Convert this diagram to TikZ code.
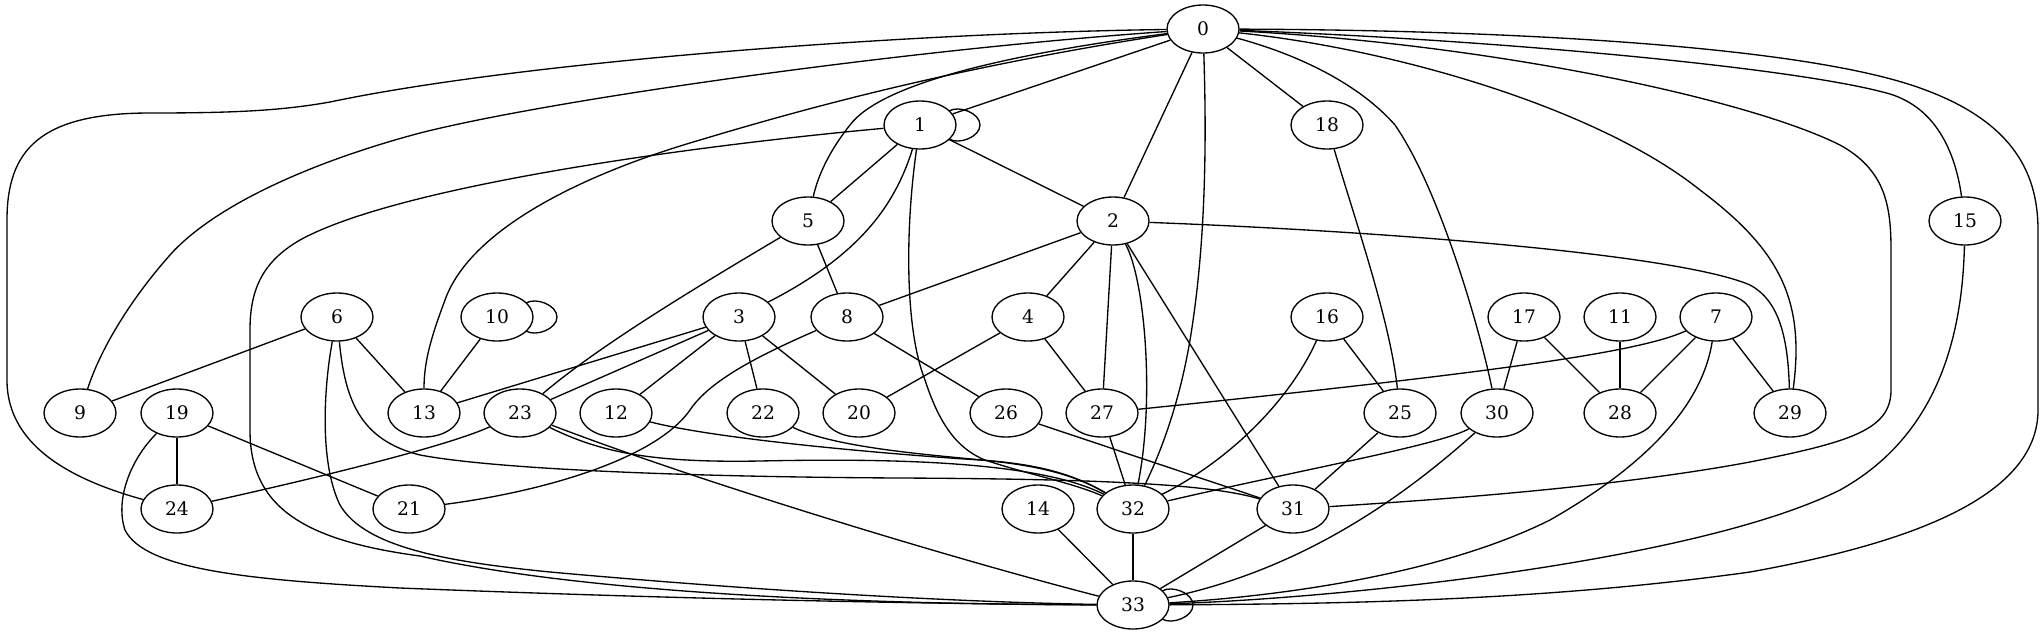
\documentclass[tikz,border=0pt]{standalone}
\usepackage{fontspec}
\setmainfont{DejaVu Serif}
\usetikzlibrary{shapes.geometric,calc}
\newcommand\vloop[1]{\draw ($(#1)+(29,-14)$) .. controls ($(#1)+(39,-20)$) and ($(#1)+(60,-12)$) .. ($(#1)+(60,0)$) .. controls ($(#1)+(60,12)$) and ($(#1)+(39,20)$) .. ($(#1)+(29,14)$);}
\begin{document}
\begin{tikzpicture}[x=1pt,y=-1pt,line width=1.33pt,
  vtx/.style={draw,ellipse,minimum width=72pt,minimum height=48pt,inner sep=0pt,font=\fontsize{18.67pt}{22pt}\selectfont}]
\useasboundingbox (0,0) rectangle (2043,635);
% nodes
\node[vtx] (n0) at (1203,29) {0};
\node[vtx] (n1) at (920,125) {1};
\node[vtx] (n18) at (1327,125) {18};
\node[vtx] (n5) at (808,221) {5};
\node[vtx] (n2) at (1113,221) {2};
\node[vtx] (n15) at (1965,221) {15};
\node[vtx] (n6) at (337,317) {6};
\node[vtx] (n10) at (497,317) {10};
\node[vtx] (n3) at (739,317) {3};
\node[vtx] (n8) at (847,317) {8};
\node[vtx] (n4) at (1028,317) {4};
\node[vtx] (n16) at (1327,317) {16};
\node[vtx] (n17) at (1524,317) {17};
\node[vtx] (n11) at (1620,317) {11};
\node[vtx] (n7) at (1716,317) {7};
\node[vtx] (n9) at (80,413) {9};
\node[vtx] (n19) at (177,413) {19};
\node[vtx] (n13) at (424,413) {13};
\node[vtx] (n23) at (520,413) {23};
\node[vtx] (n12) at (616,413) {12};
\node[vtx] (n22) at (763,413) {22};
\node[vtx] (n20) at (859,413) {20};
\node[vtx] (n26) at (1006,413) {26};
\node[vtx] (n27) at (1102,413) {27};
\node[vtx] (n25) at (1400,413) {25};
\node[vtx] (n30) at (1497,413) {30};
\node[vtx] (n28) at (1620,413) {28};
\node[vtx] (n29) at (1790,413) {29};
\node[vtx] (n24) at (177,509) {24};
\node[vtx] (n21) at (409,509) {21};
\node[vtx] (n14) at (1038,509) {14};
\node[vtx] (n32) at (1133,509) {32};
\node[vtx] (n31) at (1293,509) {31};
\node[vtx] (n33) at (1133,605) {33};
% straight edges
\draw (n0) -- (n1);
\draw (n0) -- (n2);
\draw (n0) -- (n18);
\draw (n1) -- (n5);
\draw (n1) -- (n2);
\draw (n2) -- (n8);
\draw (n2) -- (n4);
\draw (n2) -- (n27);
\draw (n2) -- (n31);
\draw (n5) -- (n8);
\draw (n6) -- (n9);
\draw (n6) -- (n13);
\draw (n10) -- (n13);
\draw (n3) -- (n13);
\draw (n3) -- (n23);
\draw (n3) -- (n12);
\draw (n3) -- (n22);
\draw (n3) -- (n20);
\draw (n8) -- (n26);
\draw (n4) -- (n20);
\draw (n4) -- (n27);
\draw (n16) -- (n25);
\draw (n17) -- (n30);
\draw (n17) -- (n28);
\draw (n11) -- (n28);
\draw (n7) -- (n28);
\draw (n7) -- (n29);
\draw (n19) -- (n24);
\draw (n19) -- (n21);
\draw (n27) -- (n32);
\draw (n25) -- (n31);
\draw (n31) -- (n33);
\draw (n14) -- (n33);
\draw (n32) -- (n33);
\draw (n26) -- (n31);
% curved edges
\draw (n0) .. controls (900,33) and (520,62) .. (330,102) .. controls (280,111) and (230,113) .. (150,113) .. controls (40,113) and (7,150) .. (7,220) -- (7,380) .. controls (7,450) and (80,482) .. (n24);
\draw (n0) .. controls (900,50) and (550,100) .. (420,133) .. controls (300,165) and (210,210) .. (170,255) .. controls (130,300) and (100,350) .. (n9);
\draw (n0) .. controls (950,68) and (800,110) .. (700,140) .. controls (580,175) and (470,230) .. (445,300) .. controls (432,335) and (424,360) .. (n13);
\draw (n0) .. controls (1000,55) and (880,85) .. (850,125) .. controls (830,150) and (818,175) .. (n5);
\draw (n1) .. controls (700,145) and (400,185) .. (300,240) .. controls (262,262) and (250,290) .. (250,330) -- (250,430) .. controls (250,505) and (300,540) .. (420,556) .. controls (560,588) and (800,604) .. (n33);
\draw (n6) .. controls (325,380) and (318,460) .. (340,505) .. controls (365,548) and (450,562) .. (550,572) .. controls (750,590) and (950,602) .. (n33);
\draw (n6) .. controls (345,400) and (360,440) .. (420,455) .. controls (500,470) and (700,477) .. (900,478) .. controls (1100,479) and (1210,484) .. (n31);
\draw (n19) .. controls (130,460) and (115,500) .. (125,530) .. controls (145,570) and (250,580) .. (400,588) .. controls (700,600) and (950,604) .. (n33);
\draw (n23) .. controls (700,482) and (950,558) .. (n33);
\draw (n23) .. controls (600,452) and (650,463) .. (760,461) .. controls (900,458) and (1040,462) .. (n32);
\draw (n12) .. controls (720,440) and (900,455) .. (980,460) .. controls (1040,464) and (1075,475) .. (n32);
\draw (n22) .. controls (840,450) and (950,456) .. (1000,462) .. controls (1050,468) and (1080,478) .. (n32);
\draw (n1) .. controls (905,230) and (905,330) .. (925,380) .. controls (938,420) and (955,448) .. (985,460) .. controls (1030,475) and (1070,482) .. (n32);
\draw (n1) .. controls (895,205) and (860,255) .. (n3);
\draw (n2) .. controls (1145,280) and (1155,400) .. (n32);
\draw (n0) .. controls (1207,150) and (1205,250) .. (1190,340) .. controls (1180,400) and (1162,450) .. (n32);
\draw (n16) .. controls (1290,400) and (1230,460) .. (n32);
\draw (n30) .. controls (1440,445) and (1300,470) .. (n32);
\draw (n30) .. controls (1400,500) and (1300,570) .. (n33);
\draw (n7) .. controls (1700,420) and (1620,480) .. (1550,520) .. controls (1450,570) and (1300,595) .. (n33);
\draw (n15) .. controls (1962,350) and (1930,440) .. (1840,490) .. controls (1700,560) and (1350,598) .. (n33);
\draw (n0) .. controls (1500,30) and (1800,45) .. (1920,88) .. controls (2010,120) and (2038,170) .. (2038,230) -- (2038,410) .. controls (2038,500) and (1900,545) .. (1750,572) .. controls (1550,600) and (1350,604) .. (n33);
\draw (n0) .. controls (1500,40) and (1800,68) .. (1890,94) .. controls (1935,108) and (1955,150) .. (n15);
\draw (n0) .. controls (1500,45) and (1750,100) .. (1840,145) .. controls (1885,170) and (1891,205) .. (1891,250) -- (1891,390) .. controls (1891,430) and (1850,442) .. (1750,462) .. controls (1600,490) and (1400,502) .. (n31);
\draw (n0) .. controls (1400,50) and (1600,110) .. (1700,190) .. controls (1780,250) and (1805,300) .. (n29);
\draw (n2) .. controls (1400,232) and (1680,255) .. (1750,285) .. controls (1778,300) and (1788,335) .. (n29);
\draw (n0) .. controls (1300,55) and (1360,85) .. (1395,125) .. controls (1440,190) and (1480,330) .. (n30);
\draw (n18) .. controls (1355,220) and (1390,320) .. (n25);
\draw (n5) .. controls (700,285) and (600,345) .. (n23);
\draw (n24) .. controls (330,475) and (450,445) .. (n23);
\draw (n8) .. controls (760,355) and (710,380) .. (690,410) .. controls (655,460) and (540,492) .. (n21);
\draw (n7) .. controls (1640,352) and (1500,372) .. (n27);
% self loops
\vloop{n1}
\vloop{n10}
\vloop{n33}
\end{tikzpicture}
\end{document}
